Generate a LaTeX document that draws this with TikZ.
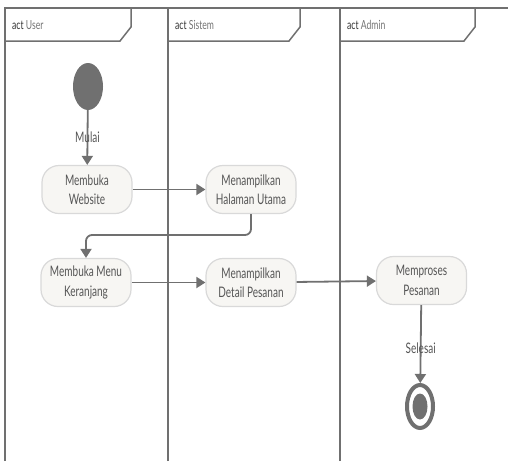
\documentclass[tikz,border=0pt]{standalone}
\usepackage{fontspec}
\usepackage{tikz}
\usepackage{xcolor}
\usetikzlibrary{positioning, shapes.geometric, arrows.meta}
\newfontfamily\lanefont{Lato}[FakeStretch=0.69]
\definecolor{linegray}{HTML}{707070}
\definecolor{boxgray}{HTML}{D9D9D9}
\definecolor{boxfill}{HTML}{F7F6F3}
\definecolor{textgray}{HTML}{555555}
\tikzset{
    activity/.style={rectangle, rounded corners=17pt, draw=boxgray, fill=boxfill, line width=1.2pt, minimum width=90pt, minimum height=48pt, inner sep=0pt, align=center, text=textgray, font=\lanefont\fontsize{14.5}{19.5}\selectfont},
    startnode/.style={ellipse, fill=linegray, minimum width=30pt, minimum height=47pt, inner sep=0pt},
    endring/.style={ellipse, draw=linegray, fill=white, line width=4pt, minimum width=26pt, minimum height=43pt, inner sep=0pt},
    enddot/.style={ellipse, fill=linegray, minimum width=15pt, minimum height=26pt, inner sep=0pt},
    flow/.style={draw=linegray, line width=1.8pt, -{Triangle[length=9pt, width=11pt]}},
    lane/.style={draw=linegray, line width=1.5pt},
    guard/.style={text=textgray, font=\lanefont\fontsize{14.5}{16}\selectfont, inner sep=0pt},
    headtext/.style={anchor=base west, inner sep=0pt, font=\lanefont\fontsize{12.5}{14}\selectfont, text=black!55}
}

\begin{document}
\begin{tikzpicture}[x=1pt, y=-1pt]
\useasboundingbox (0,0) rectangle (508,461);

% Swimlanes
\draw[lane] (5,461) -- (5,8) -- (508,8);
\draw[lane] (168,461) -- (168,8);
\draw[lane] (340,461) -- (340,8);

% Lane headers
\draw[lane] (131,8) -- (131,27) -- (120,41) -- (5,41);
\draw[lane] (300,8) -- (300,27) -- (289,41) -- (168,41);
\draw[lane] (475,8) -- (475,27) -- (464,41) -- (340,41);
\node[headtext] (hUser) at (12,29) {\textcolor{black!80}{act} User};
\node[headtext] (hSistem) at (175,29) {\textcolor{black!80}{act} Sistem};
\node[headtext] (hAdmin) at (347,29) {\textcolor{black!80}{act} Admin};

% User lane
\node[startnode] (start) at (88,86.5) {};
\node[activity] (web) at (87,189.5) {Membuka\\Website};
\node[activity] (menu) at (86,282.5) {Membuka Menu\\Keranjang};

% Sistem lane
\node[activity] (hal) at (251,189.5) {Menampilkan\\Halaman Utama};
\node[activity] (detail) at (251,282.5) {Menampilkan\\Detail Pesanan};

% Admin lane
\node[activity] (proses) at (421.5,280.5) {Memproses\\Pesanan};
\node[endring] (end) at (420,406.5) {};
\node[enddot] (endin) at (420,406.5) {};

% Flows
\coordinate (turn) at (168,235);
\draw[flow] (start) -- node[guard] (mulai) {Mulai} (web);
\draw[flow] (web) -- (hal);
\draw[flow, rounded corners=6pt] (hal.south) -- (hal.south |- turn) -- (menu.north |- turn) -- (menu.north);
\draw[flow] (menu) -- (detail);
\draw[flow] (detail) -- (proses);
\draw[flow] (proses) -- node[guard, pos=0.55] (selesai) {Selesai} (end);
\end{tikzpicture}
\end{document}
